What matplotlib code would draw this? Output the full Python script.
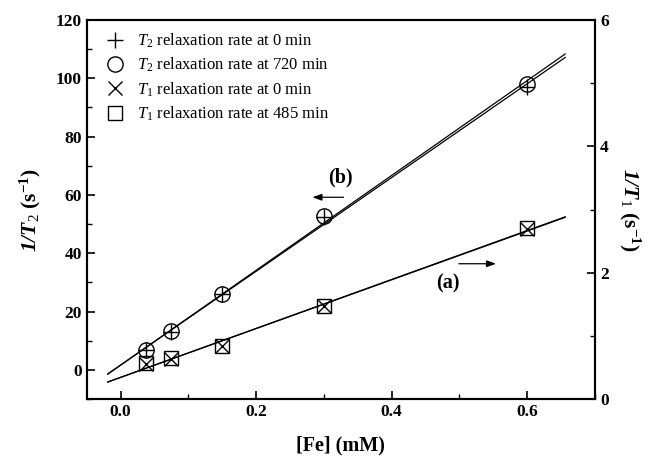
"""Relaxation rates 1/T2 and 1/T1 versus Fe concentration, with linear fits."""

import matplotlib
matplotlib.use("Agg")
import matplotlib.pyplot as plt
import numpy as np
from matplotlib.ticker import MultipleLocator

# ---------------------------------------------------------------------------
# Data
# ---------------------------------------------------------------------------

fe_mM = [0.0375, 0.075, 0.15, 0.3, 0.6]

t2_rate_0min = [6.8, 13.0, 25.9, 52.6, 96.9]
t2_rate_720min = [6.9, 13.2, 26.1, 52.9, 98.1]
t1_rate_0min = [0.56, 0.64, 0.84, 1.47, 2.69]
t1_rate_485min = [0.565, 0.644, 0.84, 1.47, 2.70]

fit_x_range = [-0.019, 0.656]

labels = [
    r"$\mathit{T}_{\mathit{2}}$ relaxation rate at 0 min",
    r"$\mathit{T}_{\mathit{2}}$ relaxation rate at 720 min",
    r"$\mathit{T}_{\mathit{1}}$ relaxation rate at 0 min",
    r"$\mathit{T}_{\mathit{1}}$ relaxation rate at 485 min",
]

# ---------------------------------------------------------------------------
# Style
# ---------------------------------------------------------------------------

plt.rcParams["font.family"] = ["Liberation Serif", "DejaVu Serif"]
plt.rcParams["mathtext.fontset"] = "custom"
plt.rcParams["mathtext.rm"] = "Liberation Serif"
plt.rcParams["mathtext.it"] = "Liberation Serif:italic"
plt.rcParams["mathtext.bf"] = "Liberation Serif:bold"
plt.rcParams["mathtext.bfit"] = "Liberation Serif:italic:bold"

fig = plt.figure(figsize=(6.51, 4.58), dpi=100)
ax = fig.add_axes([0.1332, 0.1288, 0.7808, 0.8275])
ax2 = ax.twinx()

fit_x = np.linspace(*fit_x_range, 2)

# T2 (left axis)
for ys in (t2_rate_0min, t2_rate_720min):
    k, b = np.polyfit(fe_mM, ys, 1)
    ax.plot(fit_x, k * fit_x + b, color="black", lw=0.9)
h1, = ax.plot(fe_mM, t2_rate_0min, ls="none", marker="+", ms=12, mew=1.0, color="black")
h2, = ax.plot(fe_mM, t2_rate_720min, ls="none", marker="o", ms=11, mew=1.0,
              mfc="none", mec="black")

# T1 (right axis)
for ys in (t1_rate_0min, t1_rate_485min):
    k, b = np.polyfit(fe_mM, ys, 1)
    ax2.plot(fit_x, k * fit_x + b, color="black", lw=0.9)
h3, = ax2.plot(fe_mM, t1_rate_0min, ls="none", marker="x", ms=10, mew=1.0, color="black")
h4, = ax2.plot(fe_mM, t1_rate_485min, ls="none", marker="s", ms=10, mew=1.0,
               mfc="none", mec="black")

ax.set_xlim(-0.05, 0.7)
ax.set_ylim(-10, 120)
ax2.set_ylim(0, 6)

ax.xaxis.set_major_locator(MultipleLocator(0.2))
ax.xaxis.set_minor_locator(MultipleLocator(0.1))
ax.yaxis.set_major_locator(MultipleLocator(20))
ax.yaxis.set_minor_locator(MultipleLocator(10))
ax2.yaxis.set_major_locator(MultipleLocator(2))
ax2.yaxis.set_minor_locator(MultipleLocator(1))
ax.xaxis.set_major_formatter(plt.FormatStrFormatter("%.1f"))

for a in (ax, ax2):
    a.tick_params(which="major", direction="in", length=6, width=1.2)
    a.tick_params(which="minor", direction="in", length=3.5, width=1.0)
    for s in a.spines.values():
        s.set_linewidth(1.5)
ax.tick_params(axis="y", which="both", right=False)
for lab in ax.get_xticklabels() + ax.get_yticklabels() + ax2.get_yticklabels():
    lab.set_fontweight("bold")
    lab.set_fontsize(12.5)

ax.set_xlabel("[Fe] (mM)", fontsize=14.5, fontweight="bold", labelpad=11)
ax.set_ylabel(r"$\mathbfit{1/T}_{\mathit{2}}$ $\mathbf{(s^{-1})}$", fontsize=15.5, labelpad=9)
ax2.set_ylabel(r"$\mathbfit{1/T}_{\mathit{1}}$ $\mathbf{(s^{-1})}$", fontsize=15.5,
               rotation=270, labelpad=24)

# Annotations: arrows point to the axis each curve belongs to
ax.text(0.324, 66.1, "(b)", fontsize=14.5, fontweight="bold", ha="center", va="center")
ax.annotate("", xy=(0.279, 59.2), xytext=(0.333, 59.2),
            arrowprops=dict(arrowstyle="-|>,head_length=0.55,head_width=0.2",
                            color="black", lw=0.9))
ax.text(0.4825, 29.5, "(a)", fontsize=14.5, fontweight="bold", ha="center", va="center")
ax.annotate("", xy=(0.558, 36.4), xytext=(0.495, 36.4),
            arrowprops=dict(arrowstyle="-|>,head_length=0.55,head_width=0.2",
                            color="black", lw=0.9))

ax.legend([h1, h2, h3, h4], labels, loc="upper left", frameon=False, fontsize=12,
          handletextpad=0.3, labelspacing=0.35, borderaxespad=0.3,
          bbox_to_anchor=(0.0, 1.0))

fig.savefig("out.png", dpi=100)
